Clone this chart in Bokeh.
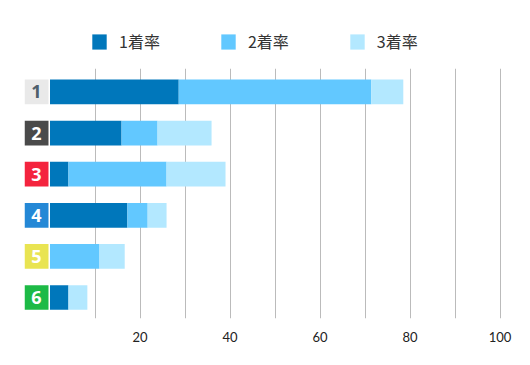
import numpy as np
from bokeh.plotting import figure
from bokeh.layouts import column
from bokeh.models import Range1d, FixedTicker, Legend, LegendItem, ColumnDataSource
from bokeh.core.properties import value
from bokeh.embed import file_html
from bokeh.resources import INLINE

# data
lanes = ["1", "2", "3", "4", "5", "6"]
first = [28.6, 15.9, 4.1, 17.2, 0.0, 4.1]
second = [42.8, 8.0, 21.8, 4.5, 11.0, 0.0]
third = [7.1, 12.0, 13.1, 4.2, 5.6, 4.2]
series_names = ["1着率", "2着率", "3着率"]
x_ticks = [20, 40, 60, 80, 100]
grid_ticks = [10, 20, 30, 40, 50, 60, 70, 80, 90, 100]

series_colors = ["#0077bb", "#62c8ff", "#b3e8ff"]
lane_colors = ["#e9e9e9", "#4a4a4a", "#f4243e", "#2488d6", "#e9e452", "#1dba46"]
lane_text_colors = ["#4f5f6b", "#ffffff", "#ffffff", "#ffffff", "#ffffff", "#ffffff"]

rows = [float(i + 1) for i in range(len(lanes))]
f = np.array(first)
s = np.array(second)
t = np.array(third)

src = ColumnDataSource(dict(y=rows, l1=[0.0] * len(rows), r1=f, r2=f + s, r3=f + s + t,
                            lane=lanes, fill=lane_colors, tc=lane_text_colors,
                            bx=[-3.0] * len(rows)))

# ---- legend strip (swatch renderers hold one point outside the visible range) ----
pl = figure(width=522, height=68, output_backend="svg", toolbar_location=None,
            x_range=Range1d(0, 1), y_range=Range1d(0, 1),
            min_border_left=0, min_border_right=0, min_border_top=0, min_border_bottom=0)
pl.xaxis.visible = False
pl.yaxis.visible = False
pl.grid.visible = False
pl.outline_line_color = None
pl.background_fill_color = "white"
pl.border_fill_color = "white"
offscreen = ColumnDataSource(dict(y=[-5.0], l=[-5.0], r=[-4.0]))
leg_r = [pl.hbar(y="y", left="l", right="r", height=1, fill_color=c, line_color=None, source=offscreen)
         for c in series_colors]
legend = Legend(items=[LegendItem(label=n, renderers=[r]) for n, r in zip(series_names, leg_r)],
                orientation="horizontal", location=(66, 15))
legend.glyph_width = 18
legend.glyph_height = 19
legend.label_standoff = 11
legend.label_width = 40
legend.spacing = 59
legend.padding = 0
legend.margin = 0
legend.border_line_color = None
legend.background_fill_alpha = 0
legend.label_text_font = "Noto Sans CJK JP"
legend.label_text_font_size = "16px"
legend.label_text_color = "#333333"
pl.add_layout(legend, "center")

# ---- main chart ----
p = figure(width=522, height=289, output_backend="svg", toolbar_location=None,
           x_range=Range1d(-5.667, 102.1), y_range=Range1d(6.51, 0.43),
           min_border_left=24, min_border_right=13,
           min_border_top=0, min_border_bottom=39)
p.yaxis.visible = False
p.outline_line_color = None
p.background_fill_color = "white"
p.border_fill_color = "white"

p.xgrid.ticker = FixedTicker(ticks=grid_ticks)
p.xgrid.grid_line_color = "#bbbbbb"
p.xgrid.grid_line_width = 1
p.ygrid.grid_line_color = None

p.xaxis.ticker = FixedTicker(ticks=x_ticks)
p.xaxis.axis_line_color = None
p.xaxis.major_tick_line_color = None
p.xaxis.minor_tick_line_color = None
p.xaxis.major_label_text_font = "Lato"
p.xaxis.major_label_text_font_size = "13px"
p.xaxis.major_label_text_color = "#222222"
p.xaxis.major_label_standoff = 7

h = 0.6
p.hbar(y="y", left="l1", right="r1", height=h, fill_color=series_colors[0], line_color=None, source=src)
p.hbar(y="y", left="r1", right="r2", height=h, fill_color=series_colors[1], line_color=None, source=src)
p.hbar(y="y", left="r2", right="r3", height=h, fill_color=series_colors[2], line_color=None, source=src)

# lane boxes
p.rect(x="bx", y="y", width=5.33, height=h, fill_color="fill", line_color=None, source=src)
p.text(x="bx", y="y", text="lane", text_color="tc", text_align="center", text_baseline="middle",
       text_font_size="18px", text_font_style="bold", text_font=value("Open Sans"), source=src)

layout = column(pl, p, spacing=0)
open("out.html", "w").write(file_html(layout, INLINE))
